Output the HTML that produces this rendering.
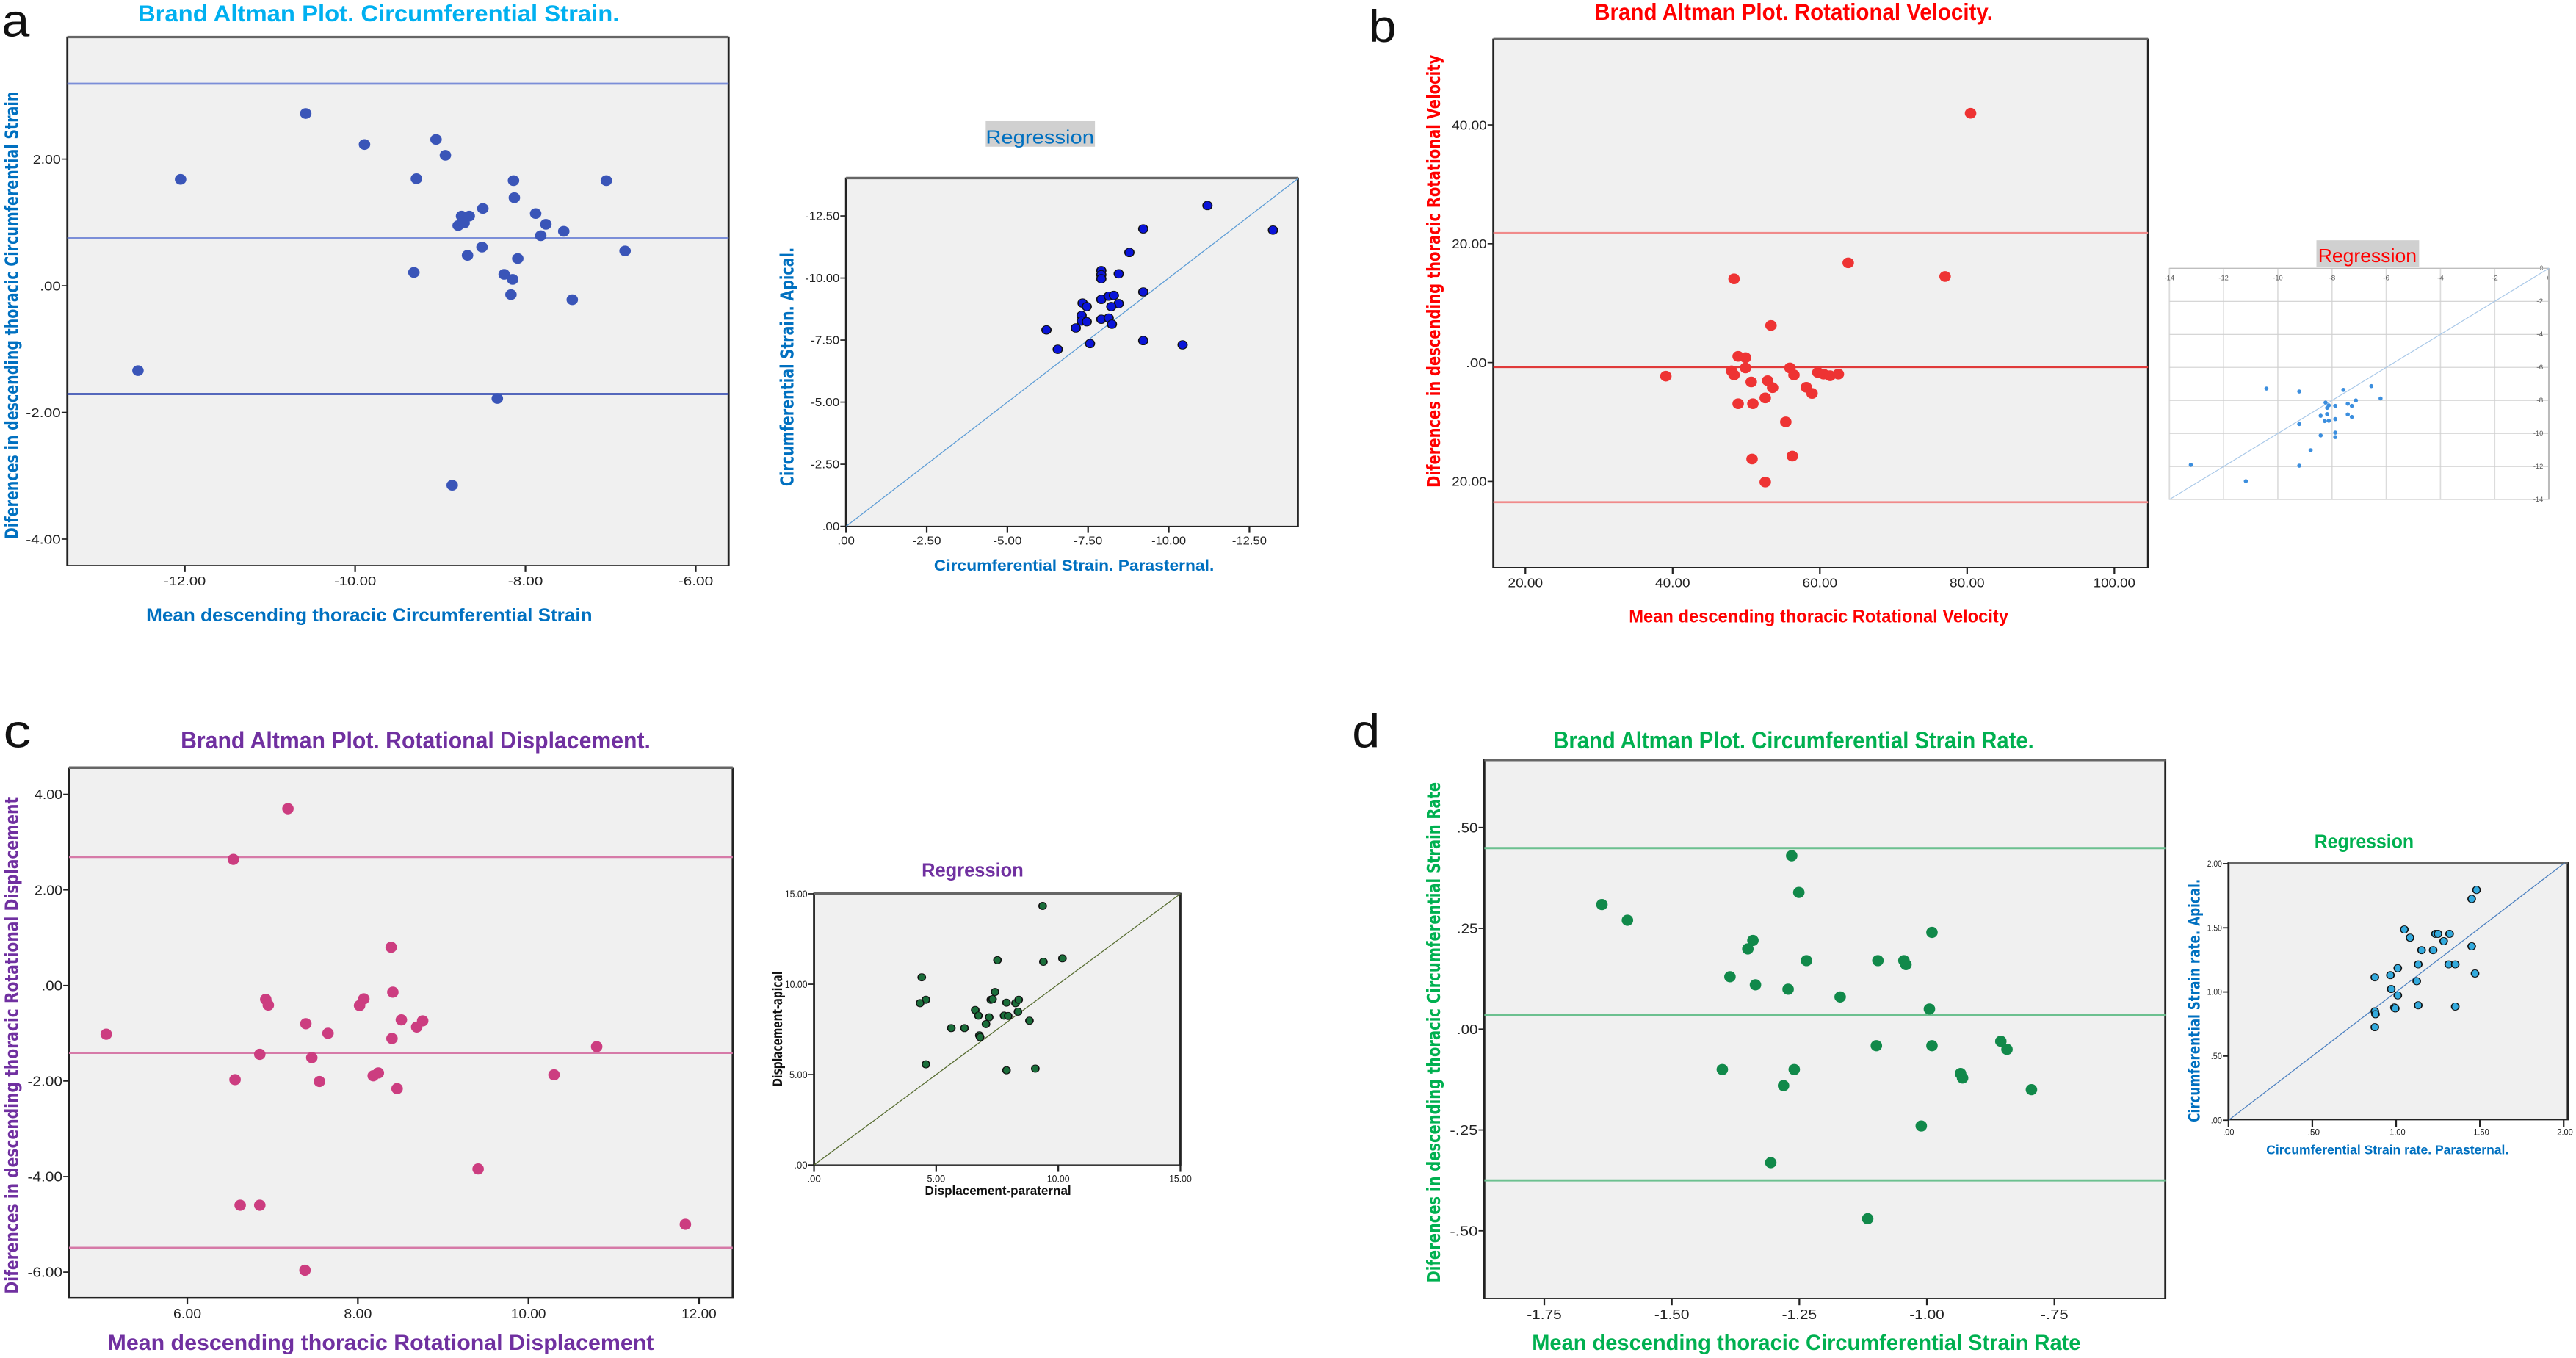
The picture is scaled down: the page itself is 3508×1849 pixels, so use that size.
<!DOCTYPE html>
<html><head><meta charset="utf-8"><title>Bland Altman plots</title>
<style>
html,body{margin:0;padding:0;background:#fff;overflow:hidden;}
svg{display:block;}
text{font-family:"Liberation Sans Narrow","Liberation Sans",sans-serif;}
.vt{font-family:"DejaVu Sans","Liberation Sans",sans-serif;font-weight:bold;}
.pl{font-family:"Liberation Sans",sans-serif;font-weight:normal;}
</style></head>
<body>
<svg id="fig" xmlns="http://www.w3.org/2000/svg" width="3508" height="1849" viewBox="0 0 3136 3295" preserveAspectRatio="none"></svg>
<script>
// ---------- Panel a data ----------
const aBaMean = [-10.58,-9.89,-9.05,-8.94,-12.05,-9.28,-8.14,-7.05,-8.13,-8.50,-7.88,-8.75,-8.66,-8.79,-8.72,-7.76,-7.55,-7.82,-6.83,-8.51,-8.68,-8.09,-9.31,-8.25,-8.15,-8.17,-7.45,-12.55,-8.33,-8.86];
const aBaDiff = [2.72,2.23,2.31,2.06,1.68,1.69,1.66,1.66,1.39,1.22,1.14,1.10,1.10,0.95,0.99,0.97,0.86,0.79,0.55,0.61,0.48,0.43,0.21,0.18,0.10,-0.14,-0.22,-1.34,-1.78,-3.15];
const aBaLimits = [3.19,0.75,-1.71];
const aBaXTicks = [-12,-10,-8,-6];
const aBaXLabels = ["-12.00","-10.00","-8.00","-6.00"];
const aBaYTicks = [2,0,-2,-4];
const aBaYLabels = ["2.00",".00","-2.00","-4.00"];
const aRegPara = [11.2,13.23,9.21,8.78,7.91,7.91,7.91,8.45,9.21,7.91,8.14,8.30,8.45,7.33,7.46,8.22,7.30,7.91,8.14,7.30,7.46,8.24,7.12,6.21,9.21,7.56,10.43,6.56];
const aRegApical = [12.92,11.93,11.98,11.03,10.30,10.13,9.97,10.17,9.44,9.14,9.27,9.30,8.97,8.99,8.85,8.85,8.49,8.34,8.39,8.27,8.24,8.14,7.99,7.91,7.48,7.36,7.31,7.13];
const aRegTicks = [0,2.5,5,7.5,10,12.5];
const aRegLabels = [".00","-2.50","-5.00","-7.50","-10.00","-12.50"];
// ---------- Panel b data ----------
const bBaMean = [80.47,63.85,77.01,48.34,53.36,48.90,49.90,49.90,48.00,48.34,55.93,56.48,59.72,60.50,61.39,62.51,39.08,50.68,52.91,53.58,58.16,58.94,52.58,48.90,50.90,55.37,50.79,56.26,52.58];
const bBaDiff = [41.96,16.78,14.49,14.08,6.24,1.04,0.83,-0.90,-1.39,-2.08,-0.90,-2.08,-1.66,-1.94,-2.22,-1.94,-2.29,-3.26,-3.05,-4.23,-4.16,-5.20,-5.96,-6.93,-6.93,-9.99,-16.23,-15.74,-20.11];
const bBaLimits = [21.8,-0.76,-23.5];
const bBaXTicks = [20,40,60,80,100];
const bBaXLabels = ["20.00","40.00","60.00","80.00","100.00"];
const bBaYTicks = [40,20,0,-20];
const bBaYLabels = ["40.00","20.00",".00","20.00"];
const bRegX = [-10.42,-9.21,-7.58,-6.55,-6.21,-8.24,-8.12,-8.18,-7.88,-7.42,-7.27,-7.12,-7.27,-7.42,-8.42,-8.18,-8.27,-8.12,-7.88,-9.21,-8.42,-7.88,-7.88,-8.79,-13.21,-9.21,-11.18];
const bRegY = [-7.28,-7.46,-7.36,-7.13,-7.88,-8.13,-8.30,-8.45,-8.33,-8.20,-8.33,-8.00,-9.00,-8.85,-8.93,-8.83,-9.25,-9.23,-9.13,-9.43,-10.12,-9.95,-10.22,-11.02,-11.90,-11.95,-12.89];
const bRegXTicks = [-14,-12,-10,-8,-6,-4,-2,0];
const bRegYTicks = [0,-2,-4,-6,-8,-10,-12,-14];
// ---------- Panel c data ----------
const cBaMean = [7.18,6.54,8.39,8.41,6.92,6.95,8.07,8.02,8.51,8.76,8.69,7.39,7.65,5.05,8.40,10.80,6.85,7.46,6.56,7.55,8.18,8.24,10.30,8.46,9.41,6.62,6.85,11.84,7.38];
const cBaDiff = [3.70,2.64,0.80,-0.14,-0.29,-0.41,-0.28,-0.42,-0.72,-0.74,-0.87,-0.80,-1.00,-1.02,-1.11,-1.28,-1.44,-1.51,-1.97,-2.01,-1.89,-1.83,-1.87,-2.16,-3.84,-4.60,-4.60,-5.00,-5.96];
const cBaLimits = [2.69,-1.41,-5.49];
const cBaXTicks = [6,8,10,12];
const cBaXLabels = ["6.00","8.00","10.00","12.00"];
const cBaYTicks = [4,2,0,-2,-4,-6];
const cBaYLabels = ["4.00","2.00",".00","-2.00","-4.00","-6.00"];
const cRegPara = [9.36,7.51,9.39,10.17,4.41,7.41,4.58,4.34,7.24,7.31,7.88,8.25,8.38,6.60,8.35,6.73,7.17,7.78,7.95,8.82,7.04,5.62,6.16,6.77,6.80,4.58,9.06,7.88];
const cRegApical = [14.33,11.33,11.24,11.43,10.38,9.57,9.14,8.95,9.14,9.17,8.98,8.95,9.14,8.57,8.48,8.26,8.17,8.26,8.24,7.98,7.79,7.57,7.57,7.17,7.07,5.57,5.33,5.24];
const cRegTicks = [0,5,10,15];
const cRegLabels = [".00","5.00","10.00","15.00"];
// ---------- Panel d data ----------
const dBaMean = [-1.265,-1.637,-1.251,-1.587,-0.990,-1.341,-1.351,-1.236,-1.096,-1.045,-1.041,-1.386,-1.336,-1.272,-1.170,-0.995,-1.099,-0.990,-0.855,-0.843,-1.401,-1.260,-0.934,-0.930,-1.281,-0.795,-1.011,-1.306,-1.116];
const dBaDiff = [0.430,0.309,0.339,0.270,0.240,0.220,0.199,0.170,0.170,0.170,0.160,0.130,0.110,0.099,0.080,0.050,-0.041,-0.041,-0.030,-0.050,-0.100,-0.100,-0.110,-0.121,-0.140,-0.150,-0.240,-0.331,-0.470];
const dBaLimits = [0.449,0.036,-0.375];
const dBaXTicks = [-1.75,-1.5,-1.25,-1.0,-0.75];
const dBaXLabels = ["-1.75","-1.50","-1.25","-1.00","-.75"];
const dBaYTicks = [0.5,0.25,0,-0.25,-0.5];
const dBaYLabels = [".50",".25",".00","-.25","-.50"];
const dRegPara = [1.480,1.451,1.049,1.083,1.235,1.250,1.319,1.284,1.451,1.152,1.221,1.132,1.314,1.353,1.010,0.966,0.873,1.471,1.123,0.971,1.010,0.990,0.995,1.132,1.353,0.873,0.877,0.873];
const dRegApical = [1.795,1.725,1.487,1.423,1.453,1.453,1.453,1.396,1.356,1.326,1.326,1.215,1.215,1.215,1.185,1.131,1.114,1.144,1.084,1.023,0.973,0.879,0.872,0.896,0.886,0.849,0.826,0.725];
const dRegXTicks = [0,0.5,1.0,1.5,2.0];
const dRegXLabels = [".00","-.50","-1.00","-1.50","-2.00"];
const dRegYTicks = [0,0.5,1.0,1.5,2.0];
const dRegYLabels = [".00",".50","1.00","1.50","2.00"];

const NS = "http://www.w3.org/2000/svg";
const svg = document.getElementById('fig');
let cur = svg;
function mk(tag, attrs, parent) {
  const e = document.createElementNS(NS, tag);
  for (const k in attrs) e.setAttribute(k, attrs[k]);
  (parent || cur).appendChild(e);
  return e;
}
function scale(v1, p1, v2, p2) { return v => p1 + (v - v1) * (p2 - p1) / (v2 - v1); }
function txt(parent, x, y, s, size, fill, opts) {
  opts = opts || {};
  const t = mk('text', {x: x, y: y, 'font-size': size, fill: fill}, parent);
  if (opts.anchor) t.setAttribute('text-anchor', opts.anchor);
  if (opts.bold) t.setAttribute('font-weight', 'bold');
  if (opts.cls) t.setAttribute('class', opts.cls);
  if (opts.len) { t.setAttribute('textLength', opts.len); t.setAttribute('lengthAdjust', 'spacingAndGlyphs'); }
  if (opts.rot) t.setAttribute('transform', 'rotate(-90 ' + x + ' ' + y + ')');
  t.textContent = s;
  return t;
}
function framedBox(g, b, thickTop) {
  const r = mk('rect', {x: b.x0, y: b.y0, width: b.x1 - b.x0, height: b.y1 - b.y0, fill: '#f0f0f0', stroke: '#222', 'stroke-width': 2.5}, g);
  
  
  if (thickTop) {
    const tl = mk('line', {x1: b.x0, y1: b.y0, x2: b.x1, y2: b.y0, stroke: '#666', 'stroke-width': 6}, g);
    
    
  }
}
function axes(g, b, xs, ys, xT, xL, yT, yL, fs, lenPerChar) {
  xT.forEach((v, i) => {
    const x = xs(v);
    mk('line', {x1: x, y1: b.y1, x2: x, y2: b.y1 + 16, stroke: '#222', 'stroke-width': 2}, g);
    const t = txt(g, x, b.y1 + 16 + fs, xL[i], fs, '#222', {anchor: 'middle', len: xL[i].length * lenPerChar});
    
    
  });
  yT.forEach((v, i) => {
    const y = ys(v);
    mk('line', {x1: b.x0 - 7, y1: y, x2: b.x0, y2: y, stroke: '#222', 'stroke-width': 3}, g);
    const t = txt(g, b.x0 - 8, y + fs * 0.35, yL[i], fs, '#222', {anchor: 'end', len: yL[i].length * lenPerChar});
    
    
  });
}
function baPanel(p) {
  const g = mk('g', {});
  
  
  const b = p.box;
  framedBox(g, b, true);
  const xs = scale(p.xMap[0], p.xMap[1], p.xMap[2], p.xMap[3]);
  const ys = scale(p.yMap[0], p.yMap[1], p.yMap[2], p.yMap[3]);
  p.limits.forEach((v, i) => {
    const l = mk('line', {x1: b.x0, y1: ys(v), x2: b.x1, y2: ys(v), stroke: p.lineColors[i], 'stroke-width': 5}, g);
    
    
  });
  axes(g, b, xs, ys, p.xT, p.xL, p.yT, p.yL, 32, 8.5);
  p.xs.forEach((v, i) => {
    const c = mk('ellipse', {cx: xs(v), cy: ys(p.ys[i]), rx: 7, ry: 13, fill: p.color}, g);
    
    
  });
  return g;
}
function regPanel(p) {
  const g = mk('g', {});
  
  
  const b = p.box;
  framedBox(g, b, true);
  const xs = scale(p.xMap[0], p.xMap[1], p.xMap[2], p.xMap[3]);
  const ys = scale(p.yMap[0], p.yMap[1], p.yMap[2], p.yMap[3]);
  const xmax = p.xMap[0] + (b.x1 - p.xMap[1]) * (p.xMap[2] - p.xMap[0]) / (p.xMap[3] - p.xMap[1]);
  const ymax = p.yMap[0] + (b.y0 - p.yMap[1]) * (p.yMap[2] - p.yMap[0]) / (p.yMap[3] - p.yMap[1]);
  const vm = Math.min(xmax, ymax);
  const l = mk('line', {x1: xs(0), y1: ys(0), x2: xs(vm), y2: ys(vm), stroke: p.lineColor, 'stroke-width': 1.5}, g);
  
  
  axes(g, b, xs, ys, p.xT, p.xL, p.yT, p.yL, p.fs, p.lpc);
  p.xs.forEach((v, i) => {
    const c = mk('ellipse', {cx: xs(v), cy: ys(p.ys[i]), rx: p.r, ry: p.r * 1.9, fill: p.color, stroke: '#111', 'stroke-width': 1.5}, g);
    
    
  });
  return g;
}
function quad(name, tx, ty, sy) {
  const g = mk('g', {transform: 'translate(' + tx + ',' + ty + ') scale(1,' + sy + ')'}, svg);
  
  
  return g;
}

const QX = 1568, QY = 1657, SC = 1.0443;
let t;

// ======== Panel a ========
cur = quad('panel-a', 0, 0, 1);
t = txt(cur, 2, 88, 'a', 110, '#111', {cls: 'pl', len: 34});
 
t = txt(cur, 168, 52, 'Brand Altman Plot. Circumferential Strain.', 56, '#00b0f0', {bold: true, len: 586});
 
baPanel({name: 'bland-altman-a', box: {x0: 82, x1: 887, y0: 90, y1: 1372},
  xMap: [-12, 225, -6, 847], yMap: [2, 386, -4, 1308], limits: aBaLimits,
  lineColors: ['#7b8ed8', '#7b8ed8', '#3f55b5'], color: '#3a55b8',
  xT: aBaXTicks, xL: aBaXLabels, yT: aBaYTicks, yL: aBaYLabels, xs: aBaMean, ys: aBaDiff});
t = txt(cur, 22, 765, 'Diferences in descending thoracic Circumferential Strain', 22, '#0070c0', {cls: 'vt', anchor: 'middle', rot: true, len: 1086});
 
t = txt(cur, 178, 1508, 'Mean descending thoracic Circumferential Strain', 44, '#0070c0', {bold: true, len: 543});
 
const ra = mk('rect', {x: 1200, y: 294, width: 133, height: 62, fill: '#d0d0d0'});
 
t = txt(cur, 1266, 348, 'Regression', 46, '#0070c0', {anchor: 'middle', len: 132});
 
regPanel({name: 'regression-a', box: {x0: 1030, x1: 1580, y0: 432, y1: 1277},
  xMap: [0, 1030, 12.5, 1521], yMap: [0, 1277, 12.5, 524], lineColor: '#5b9bd5', color: '#0a14d8', r: 5.5,
  xT: aRegTicks, xL: aRegLabels, yT: aRegTicks, yL: aRegLabels, xs: aRegPara, ys: aRegApical, fs: 28, lpc: 7});
t = txt(cur, 966, 890, 'Circumferential Strain. Apical.', 22, '#0070c0', {cls: 'vt', anchor: 'middle', rot: true, len: 580});
 
t = txt(cur, 1137, 1385, 'Circumferential Strain. Parasternal.', 38, '#0070c0', {bold: true, len: 341});
 

// ======== Panel b ========
cur = quad('panel-b', QX, 0, 1);
t = txt(cur, 98, 102, 'b', 110, '#111', {cls: 'pl', len: 34});
 
t = txt(cur, 373, 48, 'Brand Altman Plot. Rotational Velocity.', 56, '#ff0000', {bold: true, len: 485});
 
baPanel({name: 'bland-altman-b', box: {x0: 250, x1: 1047, y0: 95, y1: 1377},
  xMap: [20, 289, 100, 1006], yMap: [40, 303, -20, 1168], limits: bBaLimits,
  lineColors: ['#f08a8a', '#e03a3a', '#f08a8a'], color: '#ee3333',
  xT: bBaXTicks, xL: bBaXLabels, yT: bBaYTicks, yL: bBaYLabels, xs: bBaMean, ys: bBaDiff});
t = txt(cur, 185, 658, 'Diferences in descending thoracic  Rotational Velocity', 22, '#ff0000', {cls: 'vt', anchor: 'middle', rot: true, len: 1050});
 
t = txt(cur, 415, 1510, 'Mean descending thoracic  Rotational Velocity', 44, '#ff0000', {bold: true, len: 462});
 
const rb = mk('rect', {x: 1252, y: 583, width: 125, height: 65, fill: '#d0d0d0'});
 
t = txt(cur, 1314, 636, 'Regression', 46, '#ff0000', {anchor: 'middle', len: 120});
 
(function () {
  const g = mk('g', {});
  
  
  const b = {x0: 1073, x1: 1535, y0: 651, y1: 1212};
  const xs = scale(-14, 1073, 0, 1535), ys = scale(0, 651, -14, 1212);
  const bg = mk('rect', {x: b.x0, y: b.y0, width: b.x1 - b.x0, height: b.y1 - b.y0, fill: '#fff', stroke: '#d9d9d9', 'stroke-width': 1.5}, g);
   
  bRegXTicks.forEach(v => {
    const gl = mk('line', {x1: xs(v), y1: b.y0, x2: xs(v), y2: b.y1, stroke: '#dcdcdc', 'stroke-width': 1.5}, g);
     
    const s = String(v);
    const tl = txt(g, xs(v), 680, s, 16, '#555', {anchor: 'middle', len: s.length * 4});
     
  });
  bRegYTicks.forEach(v => {
    const gl = mk('line', {x1: b.x0, y1: ys(v), x2: b.x1, y2: ys(v), stroke: '#d0d0d0', 'stroke-width': 2}, g);
     
    const s = String(v);
    const tl = txt(g, 1528, ys(v) + 5, s, 16, '#555', {anchor: 'end', len: s.length * 4});
     
  });
  const ax = mk('line', {x1: b.x0, y1: b.y0, x2: b.x1, y2: b.y0, stroke: '#bbb', 'stroke-width': 2}, g);
   
  const ay = mk('line', {x1: b.x1, y1: b.y0, x2: b.x1, y2: b.y1, stroke: '#bbb', 'stroke-width': 2}, g);
   
  const il = mk('line', {x1: xs(-14), y1: ys(-14), x2: xs(0), y2: ys(0), stroke: '#a9c8e8', 'stroke-width': 1.5}, g);
   
  bRegX.forEach((v, i) => {
    const c = mk('ellipse', {cx: xs(v), cy: ys(bRegY[i]), rx: 2.5, ry: 5, fill: '#3b8ede'}, g);
    
    
  });
})();

// ======== Panel c ========
cur = quad('panel-c', 0, QY, SC);
t = txt(cur, 4, 150, 'c', 110, '#111', {cls: 'pl', len: 34});
 
t = txt(cur, 220, 152, 'Brand Altman Plot. Rotational Displacement.', 56, '#7030a0', {bold: true, len: 572});
 
baPanel({name: 'bland-altman-c', box: {x0: 84, x1: 892, y0: 197, y1: 1428},
  xMap: [6, 228, 12, 851], yMap: [4, 259, -6, 1369], limits: cBaLimits,
  lineColors: ['#d67aa8', '#d67aa8', '#d67aa8'], color: '#cc3d80',
  xT: cBaXTicks, xL: cBaXLabels, yT: cBaYTicks, yL: cBaYLabels, xs: cBaMean, ys: cBaDiff});
t = txt(cur, 22, 842, 'Diferences in descending thoracic  Rotational Displacement', 22, '#7030a0', {cls: 'vt', anchor: 'middle', rot: true, len: 1155});
 
t = txt(cur, 131, 1550, 'Mean descending thoracic  Rotational Displacement', 50, '#7030a0', {bold: true, len: 665});
 
t = txt(cur, 1184, 450, 'Regression', 44, '#7030a0', {anchor: 'middle', bold: true, len: 124});
 
regPanel({name: 'regression-c', box: {x0: 991, x1: 1437, y0: 489, y1: 1120},
  xMap: [0, 991, 15, 1437], yMap: [0, 1120, 15, 490], lineColor: '#556b2f', color: '#1a6e3a', r: 4.5,
  xT: cRegTicks, xL: cRegLabels, yT: cRegTicks, yL: cRegLabels, xs: cRegPara, ys: cRegApical, fs: 24, lpc: 5.5});
t = txt(cur, 952, 804, 'Displacement-apical', 17, '#111', {cls: 'vt', anchor: 'middle', rot: true, len: 268});
 
t = txt(cur, 1126, 1190, 'Displacement-paraternal', 30, '#111', {bold: true, len: 178});
 

// ======== Panel d ========
cur = quad('panel-d', QX, QY, SC);
t = txt(cur, 78, 150, 'd', 110, '#111', {cls: 'pl', len: 34});
 
t = txt(cur, 323, 152, 'Brand Altman Plot. Circumferential Strain Rate.', 56, '#00b050', {bold: true, len: 585});
 
baPanel({name: 'bland-altman-d', box: {x0: 239, x1: 1068, y0: 179, y1: 1430},
  xMap: [-1.75, 312, -0.75, 933], yMap: [0.5, 336, -0.5, 1273], limits: dBaLimits,
  lineColors: ['#6cc08f', '#6cc08f', '#6cc08f'], color: '#11894a',
  xT: dBaXTicks, xL: dBaXLabels, yT: dBaYTicks, yL: dBaYLabels, xs: dBaMean, ys: dBaDiff});
t = txt(cur, 185, 812, 'Diferences in descending thoracic  Circumferential Strain Rate', 22, '#00b050', {cls: 'vt', anchor: 'middle', rot: true, len: 1163});
 
t = txt(cur, 297, 1550, 'Mean descending thoracic Circumferential Strain Rate', 50, '#00b050', {bold: true, len: 668});
 
t = txt(cur, 1310, 383, 'Regression', 44, '#00b050', {anchor: 'middle', bold: true, len: 121});
 
regPanel({name: 'regression-d', box: {x0: 1145, x1: 1558, y0: 418, y1: 1015},
  xMap: [0, 1145, 2.0, 1553], yMap: [0, 1016, 2.0, 420], lineColor: '#4a7fc0', color: '#33aadd', r: 4.5,
  xT: dRegXTicks, xL: dRegXLabels, yT: dRegYTicks, yL: dRegYLabels, xs: dRegPara, ys: dRegApical, fs: 20, lpc: 4.5});
t = txt(cur, 1110, 738, 'Circumferential Strain rate. Apical.', 19, '#0070c0', {cls: 'vt', anchor: 'middle', rot: true, len: 565});
 
t = txt(cur, 1191, 1095, 'Circumferential Strain rate. Parasternal.', 30, '#0070c0', {bold: true, len: 295});
 
</script>
</body></html>
